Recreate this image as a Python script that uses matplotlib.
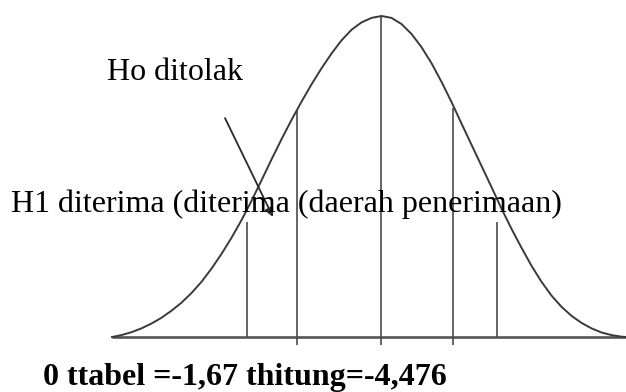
import matplotlib
matplotlib.use("Agg")
import matplotlib.pyplot as plt

# ---- data ----
# bell curve: x offset from the centre, relative height
curve_x = [-2.695, -2.6, -2.5, -2.4, -2.3, -2.2, -2.1, -2.0, -1.9, -1.8, -1.7,
           -1.6, -1.5, -1.4, -1.3, -1.2, -1.1, -1.0, -0.9, -0.8, -0.7, -0.6,
           -0.5, -0.4, -0.3, -0.2, -0.1, 0.0,
           0.1, 0.2, 0.3, 0.4, 0.5, 0.6, 0.7, 0.8, 0.9, 1.0, 1.1, 1.2, 1.3,
           1.4, 1.5, 1.6, 1.7, 1.8, 1.9, 2.0, 2.1, 2.2, 2.3, 2.4, 2.445]
curve_y = [0.0, 0.006, 0.015, 0.027, 0.042, 0.060, 0.082, 0.107, 0.137, 0.172,
           0.213, 0.259, 0.309, 0.364, 0.424, 0.488, 0.553, 0.616, 0.676, 0.733,
           0.787, 0.837, 0.883, 0.924, 0.957, 0.980, 0.994, 1.0,
           0.994, 0.975, 0.944, 0.903, 0.853, 0.795, 0.732, 0.665, 0.599, 0.533,
           0.467, 0.400, 0.337, 0.278, 0.222, 0.172, 0.129, 0.094, 0.066, 0.044,
           0.027, 0.014, 0.006, 0.001, 0.0]

# vertical marker lines
line_x = [-1.348, -0.842, 0.0, 0.718, 1.152]
line_top = [0.359, 0.707, 1.0, 0.713, 0.359]
line_bottom = [0.0, -0.025, -0.025, -0.025, 0.0]

# base (horizontal) line
base_x = [-2.695, 2.6]
base_y = [0.0, 0.0]

label_rejected = "Ho ditolak"
label_accepted = "H1 diterima (diterima (daerah penerimaan)"
label_bottom = "0 ttabel =-1,67 thitung=-4,476"

# ---- drawing ----
plt.rcParams['font.family'] = ['Liberation Serif', 'DejaVu Serif']

fig = plt.figure(figsize=(6.26, 3.92), dpi=100)
ax = fig.add_axes([0, 0, 1, 1])
ax.set_xlim(-3.815, 2.445)
ax.set_ylim(-0.1713, 1.0498)
ax.axis('off')

ax.plot(base_x, base_y, color='#555555', lw=1.9, solid_capstyle='butt')
ax.vlines(line_x, line_bottom, line_top, color='#4a4a4a', lw=1.2)
ax.plot(curve_x, curve_y, color='#3a3a3a', lw=1.4, solid_joinstyle='round')

# arrow
ax.annotate('', xy=(-1.085, 0.374), xytext=(-1.565, 0.682),
            arrowprops=dict(arrowstyle='-|>', color='#2a2a2a', lw=1.3,
                            mutation_scale=13, shrinkA=0, shrinkB=0))

ax.text(-2.745, 0.8006, label_rejected, fontsize=23, ha='left', va='baseline',
        color='black')
ax.text(-3.705, 0.389, label_accepted, fontsize=23, ha='left', va='baseline',
        color='black')
ax.text(-3.385, -0.1495, label_bottom, fontsize=23, fontweight='bold',
        ha='left', va='baseline', color='black')

fig.savefig('out.png', dpi=100)
